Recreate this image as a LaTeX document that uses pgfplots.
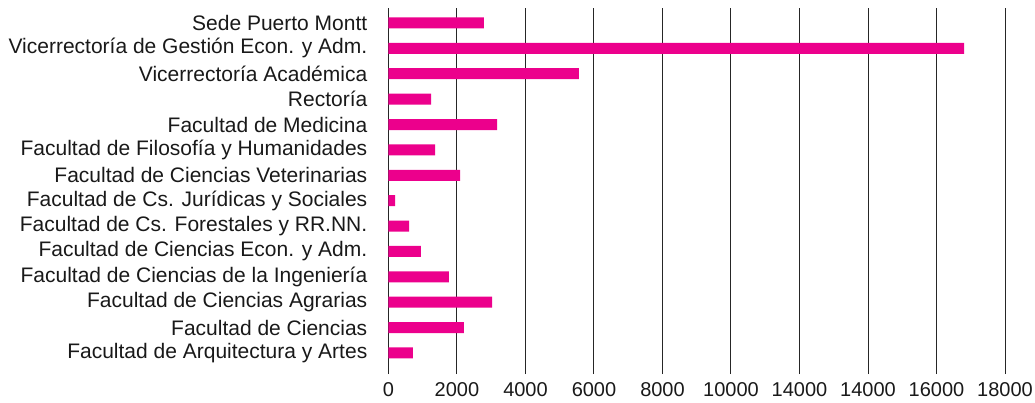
\documentclass[border=0pt]{standalone}
\usepackage{fontspec}
\setmainfont{Liberation Sans}
\usepackage{pgfplots}
\pgfplotsset{compat=1.18}
\definecolor{barmag}{HTML}{EC008C}
\begin{document}
\begin{tikzpicture}
\useasboundingbox (-388.5pt,-28pt) rectangle (646.5pt,374pt);
\begin{axis}[
  anchor=south west, at={(0,0)},
  scale only axis,
  width=616.5pt, height=366pt,
  xmin=0, xmax=18000,
  ymin=-0.83, ymax=13.59,
  xbar, bar width=11pt,
  axis line style={draw=none},
  xtick={0,2000,4000,6000,8000,10000,12000,14000,16000,18000},
  xticklabels={0,2000,4000,6000,8000,10000,14000,14000,16000,18000},
  xmajorgrids,
  grid style={black!85, line width=1pt},
  major tick length=0pt,
  ytick={0,...,13},
  yticklabels={Facultad de Arquitectura y Artes,Facultad de Ciencias,Facultad de Ciencias Agrarias,Facultad de Ciencias de la Ingeniería,Facultad de Ciencias Econ. y Adm.,Facultad de Cs. Forestales y RR.NN.,Facultad de Cs. Jurídicas y Sociales,Facultad de Ciencias Veterinarias,Facultad de Filosofía y Humanidades,Facultad de Medicina,Rectoría,Vicerrectoría Académica,Vicerrectoría de Gestión Econ. y Adm.,Sede Puerto Montt},
  yticklabel style={anchor=east, inner sep=0pt, xshift=-21pt, font=\fontsize{21}{25}\selectfont, text=black!90},
  xticklabel style={anchor=north, inner sep=0pt, yshift=-8pt, font=\fontsize{20}{24}\selectfont, text=black!90},
  /pgf/number format/assume math mode=true,
  clip=false,
]
\addplot[fill=barmag, draw=none] coordinates {
(715,0) (2204,1) (3022,2) (1766,3) (949,4) (599,5) (190,6) (2088,7) (1358,8) (3168,9) (1241,10) (5562,11) (16803,12) (2788,13)
};
\end{axis}
\end{tikzpicture}
\end{document}
